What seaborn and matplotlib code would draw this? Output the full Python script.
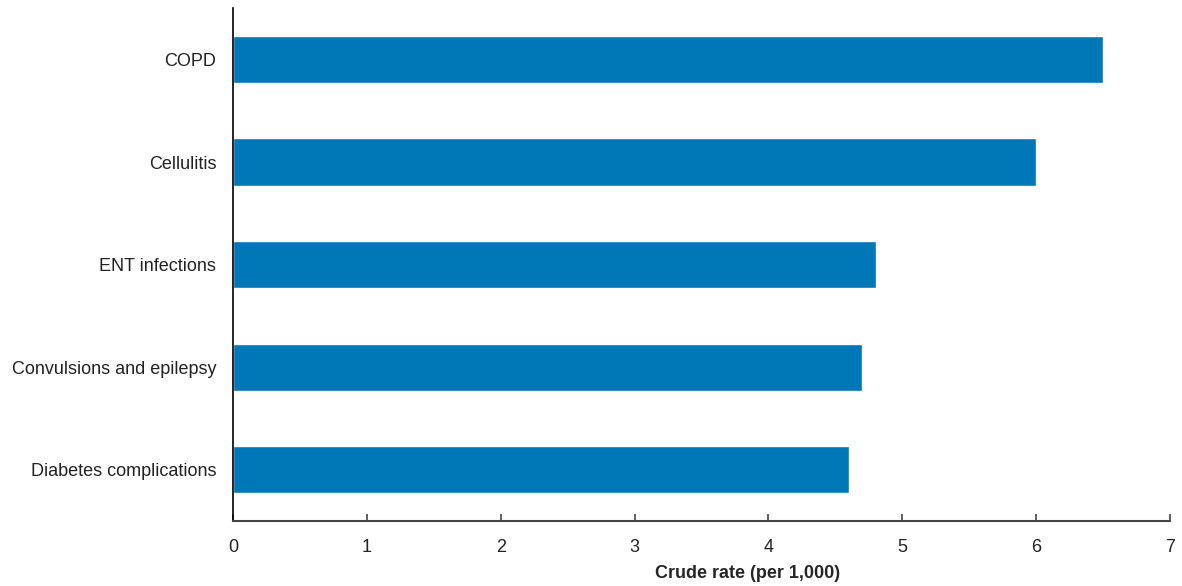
import seaborn as sns
import matplotlib.pyplot as plt
import pandas as pd

conditions = ['COPD', 'Cellulitis', 'ENT infections',
              'Convulsions and epilepsy', 'Diabetes complications']
rates = [6.5, 6.0, 4.8, 4.7, 4.6]
xticks = [0, 1, 2, 3, 4, 5, 6, 7]

df = pd.DataFrame({'Condition': conditions, 'Rate': rates})

sns.set_style('white')
plt.rcParams['font.family'] = ['Liberation Sans', 'DejaVu Sans']

fig = plt.figure(figsize=(11.82, 5.86), dpi=100)
ax = fig.add_axes([0.197, 0.111, 0.793, 0.875])
sns.barplot(data=df, x='Rate', y='Condition', color='#0077B6',
            saturation=1, width=0.46, ax=ax)

ax.set_xlim(0, 7)
ax.set_ylim(4.5, -0.5)
ax.set_xticks(xticks)
ax.set_xlabel('Crude rate (per 1,000)', fontsize=13, fontweight='bold')
ax.xaxis.set_label_coords(0.549, -0.086)
ax.set_ylabel('')
ax.tick_params(axis='x', direction='in', length=5, width=1.2, color='#444444',
               labelsize=13, pad=13, bottom=True, labelcolor='#222222')
ax.tick_params(axis='y', length=0, labelsize=13, pad=12, labelcolor='#222222')
for s in ['top', 'right']:
    ax.spines[s].set_visible(False)
ax.spines['left'].set_color('black')
ax.spines['left'].set_linewidth(1.2)
ax.spines['bottom'].set_color('#444444')
ax.spines['bottom'].set_linewidth(1.5)

fig.savefig('out.png', dpi=100)
